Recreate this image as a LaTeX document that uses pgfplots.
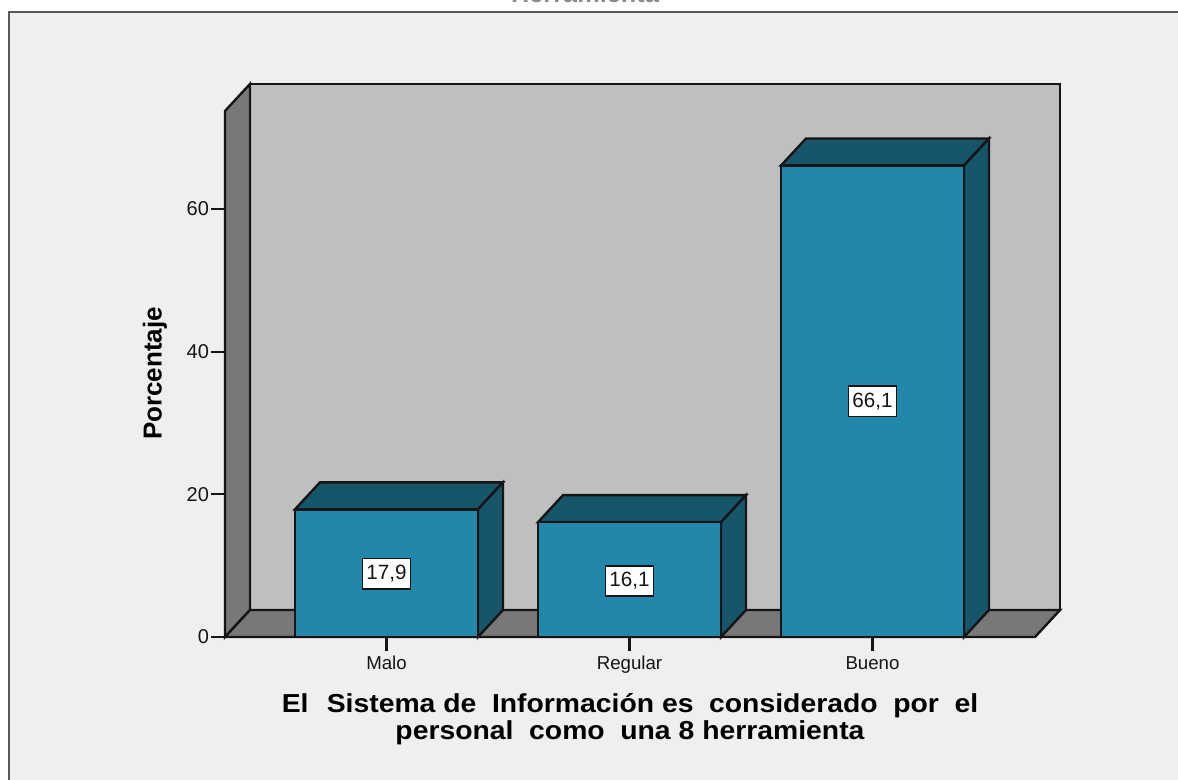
\documentclass[border=0pt]{standalone}
\usepackage{fontspec}
\setmainfont{Liberation Sans}
\newfontfamily\lblfont{Liberation Sans}[FakeStretch=1.09]
\usepackage{pgfplots}
\pgfplotsset{compat=1.18}
\definecolor{panel}{HTML}{EFEFEF}
\definecolor{wallback}{HTML}{BFBFBF}
\definecolor{wallside}{HTML}{787878}
\definecolor{barfront}{HTML}{2387AB}
\definecolor{bardark}{HTML}{17556B}
\definecolor{ink}{HTML}{151515}
\begin{document}
\begin{tikzpicture}[x=0.75pt,y=-0.75pt]
\path[use as bounding box] (0,0) rectangle (1178,780);
\fill[panel] (8,12) rectangle (1178,780);
\draw[color=black!65,line width=1.8pt] (9,780) -- (9,12) -- (1178,12);
\node[font=\bfseries\fontsize{19}{19}\selectfont,anchor=base,color=black!45] at (585,3) {Herramienta};
\begin{axis}[
  at={(168.75pt,-477.75pt)}, anchor=south west,
  scale only axis, width=607.5pt, height=394.5pt,
  xmin=-0.6646, xmax=2.6687, ymin=0, ymax=73.74,
  clip=false,
  axis x line*=bottom, axis y line*=left,
  axis line style={-,color=ink,line width=1.8pt},
  tick style={color=ink,line width=1.6pt},
  tick align=outside, major tick length=10.5pt,
  xtick={0,1,2}, xticklabels={Malo,Regular,Bueno},
  ytick={0,20,40,60},
  /pgf/number format/assume math mode=true,
  ticklabel style={font=\fontsize{14}{14}\selectfont,color=ink},
  xticklabel style={yshift=-0.5pt,text height=10pt,text depth=3pt},
  yticklabel style={xshift=2pt,font=\fontsize{15}{15}\selectfont},
  xlabel={El\hspace{0.7em}Sistema de\hspace{0.6em}Información es\hspace{0.6em}considerado\hspace{0.6em}por\hspace{0.6em}el\\personal\hspace{0.6em}como\hspace{0.6em}una 8 herramienta},
  ylabel={Porcentaje},
  every axis x label/.style={at={(axis description cs:0.5,-0.156)},anchor=center,align=center,font=\lblfont\bfseries\fontsize{19.5}{20}\selectfont,color=black},
  every axis y label/.style={at={(axis description cs:-0.0864,0.501)},anchor=center,rotate=90,font=\bfseries\fontsize{19.5}{20}\selectfont,color=black},
]
% back wall, side wall, floor
\addplot[fill=wallback,draw=ink,line width=1.8pt] coordinates {(-0.5617,3.785) (2.7716,3.785) (2.7716,77.53) (-0.5617,77.53)} -- cycle;
\addplot[fill=wallside,draw=ink,line width=1.8pt] coordinates {(-0.6646,0) (-0.5617,3.785) (-0.5617,77.53) (-0.6646,73.74)} -- cycle;
\addplot[fill=wallside,draw=ink,line width=1.8pt] coordinates {(-0.6646,0) (2.6687,0) (2.7716,3.785) (-0.5617,3.785)} -- cycle;
% bar tops
\addplot[fill=bardark,draw=ink,line width=1.8pt] coordinates {(-0.3765,17.9) (0.3765,17.9) (0.4794,21.685) (-0.2736,21.685)} -- cycle;
\addplot[fill=bardark,draw=ink,line width=1.8pt] coordinates {(0.6235,16.1) (1.3765,16.1) (1.4794,19.885) (0.7264,19.885)} -- cycle;
\addplot[fill=bardark,draw=ink,line width=1.8pt] coordinates {(1.6235,66.1) (2.3765,66.1) (2.4794,69.885) (1.7264,69.885)} -- cycle;
% bar sides
\addplot[fill=bardark,draw=ink,line width=1.8pt] coordinates {(0.3765,0) (0.4794,3.785) (0.4794,21.685) (0.3765,17.9)} -- cycle;
\addplot[fill=bardark,draw=ink,line width=1.8pt] coordinates {(1.3765,0) (1.4794,3.785) (1.4794,19.885) (1.3765,16.1)} -- cycle;
\addplot[fill=bardark,draw=ink,line width=1.8pt] coordinates {(2.3765,0) (2.4794,3.785) (2.4794,69.885) (2.3765,66.1)} -- cycle;
% bar fronts
\addplot[ybar,bar width=0.753,bar shift=0pt,fill=barfront,draw=ink,line width=1.8pt] coordinates {(0,17.9) (1,16.1) (2,66.1)};
% value labels
\addplot[draw=none,mark=none,point meta=explicit symbolic,
  nodes near coords,
  every node near coord/.style={anchor=center,fill=white,draw=ink,line width=1.3pt,inner sep=0pt,minimum width=36pt,minimum height=23pt,font=\fontsize{15.5}{15.5}\selectfont,text=ink}]
  coordinates {(0,8.85)[17,9] (1,7.85)[16,1] (2,33.05)[66,1]};
\end{axis}
\end{tikzpicture}
\end{document}
